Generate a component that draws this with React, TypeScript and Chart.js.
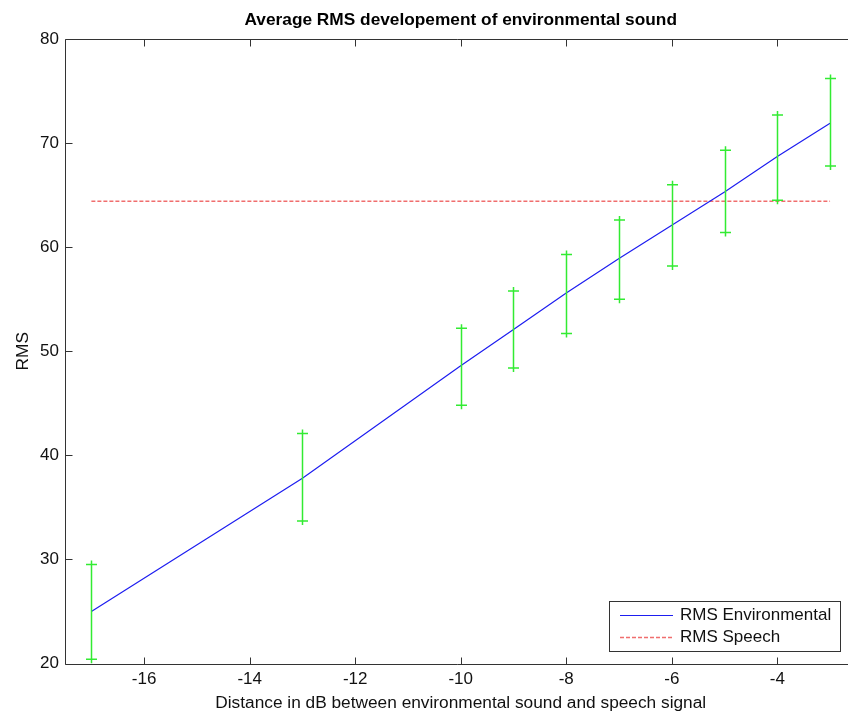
import React, { useEffect, useRef } from "react";
import { Chart, registerables } from "chart.js";

Chart.register(...registerables);

const titleText = "Average RMS developement of environmental sound";
const xAxisLabel = "Distance in dB between environmental sound and speech signal";
const yAxisLabel = "RMS";
const seriesNames = ["RMS Environmental", "RMS Speech"];

const distances = [-17, -13, -10, -9, -8, -7, -6, -5, -4, -3];
const envRms = [25.0, 37.8, 48.6, 52.1, 55.6, 58.9, 62.1, 65.3, 68.7, 71.9];
const errUpper = [29.5, 42.1, 52.2, 55.8, 59.3, 62.6, 66.0, 69.3, 72.7, 76.2];
const errLower = [20.4, 33.7, 44.8, 48.4, 51.7, 55.0, 58.2, 61.4, 64.5, 67.8];
const speechRms = 64.4;
const speechX = [-17, -3];

const xTicks = [-16, -14, -12, -10, -8, -6, -4];
const yTicks = [20, 30, 40, 50, 60, 70, 80];

const FONT = "'Liberation Sans', Arial, Helvetica, sans-serif";
const BLUE = "rgb(30,30,240)";
const RED = "rgb(240,110,110)";
const GREEN = "rgb(50,235,50)";
const AXIS = "#333333";

const decorPlugin = {
  id: "decor",
  afterDatasetsDraw(chart: any) {
    const ctx = chart.ctx;
    const xs = chart.scales.x;
    const ys = chart.scales.y;
    const a = chart.chartArea;
    ctx.save();
    // error bars
    ctx.strokeStyle = GREEN;
    ctx.lineWidth = 1.5;
    distances.forEach((d, i) => {
      const px = Math.round(xs.getPixelForValue(d)) + 0.5;
      const pt = ys.getPixelForValue(errUpper[i]);
      const pb = ys.getPixelForValue(errLower[i]);
      ctx.beginPath();
      ctx.moveTo(px, pt - 4);
      ctx.lineTo(px, pb + 4);
      ctx.moveTo(px - 5.5, pt);
      ctx.lineTo(px + 5.5, pt);
      ctx.moveTo(px - 5.5, pb);
      ctx.lineTo(px + 5.5, pb);
      ctx.stroke();
    });
    // axes (left, top, bottom) with inward ticks
    ctx.strokeStyle = AXIS;
    ctx.lineWidth = 1;
    const L = Math.round(a.left) + 0.5;
    const T = Math.round(a.top) + 0.5;
    const B = Math.round(a.bottom) + 0.5;
    const R = a.right + 2;
    ctx.beginPath();
    ctx.moveTo(R, T);
    ctx.lineTo(L, T);
    ctx.lineTo(L, B);
    ctx.lineTo(R, B);
    const tl = 7;
    xTicks.forEach((v) => {
      const px = Math.round(xs.getPixelForValue(v)) + 0.5;
      ctx.moveTo(px, B);
      ctx.lineTo(px, B - tl);
      ctx.moveTo(px, T);
      ctx.lineTo(px, T + tl);
    });
    yTicks.forEach((v) => {
      const py = Math.round(ys.getPixelForValue(v)) + 0.5;
      ctx.moveTo(L, py);
      ctx.lineTo(L + tl, py);
    });
    ctx.stroke();

    // title, centred on the full (partly hidden) axes box
    const boxCenter = (a.left + xs.getPixelForValue(-2.5)) / 2;
    ctx.fillStyle = "#000";
    ctx.font = `bold 17.3px ${FONT}`;
    ctx.textAlign = "center";
    ctx.textBaseline = "middle";
    ctx.fillText(titleText, boxCenter, 20);

    // axis labels
    ctx.font = `17.3px ${FONT}`;
    ctx.fillStyle = "#111";
    ctx.textBaseline = "alphabetic";
    ctx.fillText(xAxisLabel, boxCenter, 708);
    ctx.save();
    ctx.translate(28, (a.top + a.bottom) / 2);
    ctx.rotate(-Math.PI / 2);
    ctx.textBaseline = "alphabetic";
    ctx.fillText(yAxisLabel, 0, 0);
    ctx.restore();

    // legend
    const lx = 609.5, ly = 601.5, lw = 231, lh = 50;
    ctx.fillStyle = "#fff";
    ctx.fillRect(lx, ly, lw, lh);
    ctx.strokeStyle = AXIS;
    ctx.lineWidth = 1;
    ctx.strokeRect(lx, ly, lw, lh);
    ctx.lineWidth = 1.2;
    ctx.strokeStyle = BLUE;
    ctx.beginPath();
    ctx.moveTo(620, 615.5);
    ctx.lineTo(673, 615.5);
    ctx.stroke();
    ctx.strokeStyle = RED;
    ctx.lineWidth = 1.5;
    ctx.setLineDash([4, 2]);
    ctx.beginPath();
    ctx.moveTo(620, 637.5);
    ctx.lineTo(673, 637.5);
    ctx.stroke();
    ctx.setLineDash([]);
    ctx.fillStyle = "#111";
    ctx.font = `17px ${FONT}`;
    ctx.textAlign = "left";
    ctx.textBaseline = "middle";
    ctx.fillText(seriesNames[0], 680, 615);
    ctx.fillText(seriesNames[1], 680, 637);
    ctx.restore();
  },
};

export default function App() {
  const ref = useRef<HTMLCanvasElement>(null);
  useEffect(() => {
    const canvas = ref.current;
    if (!canvas) return;
    const chart = new Chart(canvas, {
      type: "line",
      data: {
        datasets: [
          {
            label: seriesNames[0],
            data: distances.map((d, i) => ({ x: d, y: envRms[i] })),
            borderColor: BLUE,
            borderWidth: 1.2,
            pointRadius: 0,
            fill: false,
            tension: 0,
          },
          {
            label: seriesNames[1],
            data: speechX.map((d) => ({ x: d, y: speechRms })),
            borderColor: RED,
            borderWidth: 1.5,
            borderDash: [4, 2],
            pointRadius: 0,
            fill: false,
          },
        ],
      },
      options: {
        animation: false,
        responsive: false,
        maintainAspectRatio: false,
        devicePixelRatio: 1,
        layout: { padding: { top: 39, right: 0, left: 0, bottom: 0 } },
        plugins: {
          legend: { display: false },
          title: { display: false },
          tooltip: { enabled: false },
        },
        scales: {
          x: {
            type: "linear",
            min: -17.5,
            max: -2.66,
            grid: { display: false, drawTicks: false },
            border: { display: false },
            afterBuildTicks: (s: any) => {
              s.ticks = xTicks.map((v) => ({ value: v }));
            },
            afterFit: (s: any) => {
              s.height = 49.5;
            },
            ticks: {
              padding: 6,
              color: "#111",
              font: { family: FONT, size: 17 },
              maxRotation: 0,
              autoSkip: false,
              callback: (v: any) => String(v),
            },
          },
          y: {
            type: "linear",
            min: 20,
            max: 80,
            grid: { display: false, drawTicks: false },
            border: { display: false },
            afterBuildTicks: (s: any) => {
              s.ticks = yTicks.map((v) => ({ value: v }));
            },
            afterFit: (s: any) => {
              s.width = 65;
            },
            ticks: {
              padding: 6,
              color: "#111",
              font: { family: FONT, size: 17 },
              autoSkip: false,
              callback: (v: any) => String(v),
            },
          },
        },
      },
      plugins: [decorPlugin],
    });
    return () => chart.destroy();
  }, []);
  return (
    <div
      style={{
        position: "absolute",
        left: 0,
        top: 0,
        width: 848,
        height: 713,
        overflow: "hidden",
        background: "#fff",
      }}
    >
      <canvas ref={ref} width={848} height={713} style={{ display: "block", width: 848, height: 713 }} />
    </div>
  );
}
